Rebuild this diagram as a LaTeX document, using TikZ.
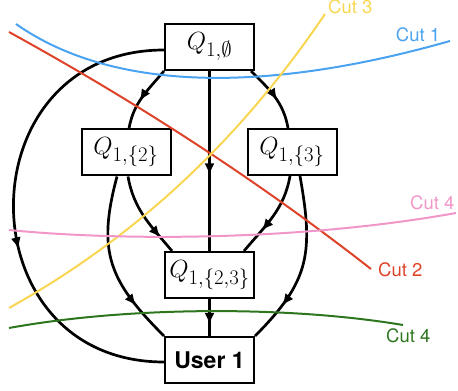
\documentclass[tikz,border=0pt]{standalone}
\usepackage{fontspec}
\newfontfamily\cutfont{TeX Gyre Heros}
\usepackage{tikz}
\usetikzlibrary{arrows.meta,decorations.markings}
\definecolor{cutblue}{RGB}{74,163,240}
\definecolor{cutred}{RGB}{222,66,40}
\definecolor{cutyellow}{RGB}{249,214,82}
\definecolor{cutpink}{RGB}{241,150,200}
\definecolor{cutgreen}{RGB}{45,118,30}

\begin{document}
\begin{tikzpicture}[
  x=1pt,y=1pt,
  qbox/.style={draw,line width=2pt,minimum width=89pt,minimum height=46pt,inner sep=0pt,fill=white,font=\fontsize{29}{33}\selectfont},
  edge/.style={line width=2.7pt},
  midarrow/.style={postaction={decorate},decoration={markings,mark=at position #1 with {\arrow{Latex[length=12pt,width=10pt]}}}},
  cut/.style={line width=2pt},
  cutlabel/.style={font=\cutfont\fontsize{18.5}{20}\selectfont,inner sep=0pt}
]
\useasboundingbox (0,0) rectangle (458,391);

% query nodes
\node[qbox] (q0) at (209.5,344) {$Q_{1,\emptyset}$};
\node[qbox] (q2) at (126,238.5) {$Q_{1,\{2\}}$};
\node[qbox] (q3) at (292,239) {$Q_{1,\{3\}}$};
\node[qbox] (q23) at (209.5,116) {$Q_{1,\{2,3\}}$};
\node[qbox,font=\cutfont\bfseries\fontsize{23}{25}\selectfont] (user) at (209.5,31) {User 1};

% flow edges
\draw[edge,midarrow=0.57] (q0.south west) to[out=-130,in=80] ([xshift=3pt]q2.north);
\draw[edge,midarrow=0.57] ([xshift=-4pt]q0.south east) to[out=-45,in=100] ([xshift=-4pt]q3.north);
\draw[edge,midarrow=0.58] (q0) -- (q23);
\draw[edge,midarrow=0.8] ([xshift=2pt]q2.south) to[out=-80,in=130] ([xshift=8pt]q23.north west);
\draw[edge,midarrow=0.77] ([xshift=-9pt]q2.south) to[out=-105,in=135,looseness=1.2] (user.north west);
\draw[edge,midarrow=0.7] ([xshift=-2pt]q3.south) to[out=-100,in=50] ([xshift=-11pt]q23.north east);
\draw[edge,midarrow=0.77] ([xshift=8pt]q3.south) to[out=-80,in=45,looseness=1.2] (user.north east);
\draw[edge,midarrow=0.7] (q23) -- (user);
\draw[edge,midarrow=0.59] ([yshift=-3pt]q0.west) to[out=180,in=180,looseness=1.65] ([yshift=-2pt]user.west);

% cuts
\draw[cut,cutblue] (16,367) .. controls (110,301) and (260,296) .. (450,350);
\node[cutlabel,text=cutblue,anchor=base] (c1) at (418,349) {Cut 1};
\draw[cut,cutred] (9,359) .. controls (140,287) and (261,208) .. (371,122);
\node[cutlabel,text=cutred,anchor=base west] (c2) at (378,114) {Cut 2};
\draw[cut,cutyellow] (9,83) .. controls (135,153) and (240,251) .. (325,377);
\node[cutlabel,text=cutyellow,anchor=base west] (c3) at (328,377) {Cut 3};
\draw[cut,cutpink] (9,161) .. controls (120,150) and (300,150) .. (456,178);
\node[cutlabel,text=cutpink,anchor=base west] (c4a) at (410,181) {Cut 4};
\draw[cut,cutgreen] (9,63) .. controls (130,85) and (290,85) .. (403,66);
\node[cutlabel,text=cutgreen,anchor=base west] (c4b) at (386,48) {Cut 4};
\end{tikzpicture}
\end{document}
